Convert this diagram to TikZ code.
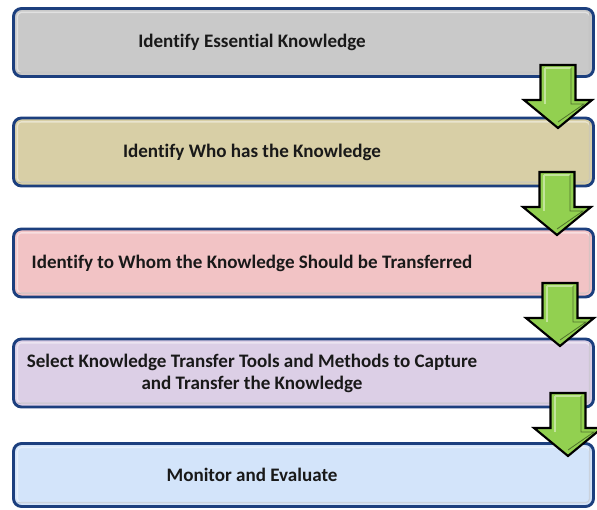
\documentclass[tikz,border=0pt]{standalone}
\usepackage{fontspec}
\setmainfont{Carlito}[Ligatures=CommonOff]
\usetikzlibrary{positioning}

\definecolor{framecol}{HTML}{1C3F7E}
\definecolor{greyfill}{HTML}{C9C9C9}
\definecolor{tanfill}{HTML}{D8CFA6}
\definecolor{pinkfill}{HTML}{F2C3C5}
\definecolor{lilacfill}{HTML}{DCCFE6}
\definecolor{bluefill}{HTML}{D3E4FA}
\definecolor{arrowfill}{HTML}{92D050}
\definecolor{arrowlight}{HTML}{C2E49A}

\tikzset{
  every picture/.style = {
    x = 0.75pt,
    y = -0.75pt,
  }
  ,
  stage/.style = {
    rectangle,
    rounded corners = 6pt,
    draw = framecol,
    line width = 2.2pt,
    minimum width = 435pt,
    minimum height = 51pt
  }
  , % text of the stages
  stage-text/.style = {
    font = \bfseries\fontsize{14.3pt}{16.5pt}\selectfont,
    text = black!90,
    align = center
  }
  , % bevel inside a stage
  bevel/.style = {
    rounded corners = 3pt,
    line width = 1pt
  }
}

% block arrow pointing down: centre x, top y
\newcommand{\stagearrow}[2]{
  \draw[fill=arrowfill, line width=1.6pt, line join=miter]
    (#1-17.5,#2) -- (#1+17.5,#2) -- (#1+17.5,#2+35) -- (#1+34,#2+35)
    -- (#1,#2+63) -- (#1-34,#2+35) -- (#1-17.5,#2+35) -- cycle;
  \draw[arrowlight, line width=1.2pt]
    (#1-13,#2+3) -- (#1-13,#2+39) (#1-13,#2+3) -- (#1+13,#2+3);
  \draw[black!45!arrowfill, line width=0.6pt]
    (#1+13,#2+3) -- (#1+13,#2+39) -- (#1+26,#2+39) -- (#1,#2+57);
}

\begin{document}
\begin{tikzpicture}
  \useasboundingbox (0,0) rectangle (597,510);

  \node[stage, fill=greyfill]  (b1) at (303.5,42.5) {};
  \node[stage, fill=tanfill]   (b2) at (303.5,152) {};
  \node[stage, fill=pinkfill]  (b3) at (303.5,263) {};
  \node[stage, fill=lilacfill] (b4) at (303.5,373) {};
  \node[stage, fill=bluefill, minimum height=47.25pt] (b5) at (303.5,475) {};

  % light and dark edges inside each stage
  \foreach \b in {b1,b2,b3,b4,b5} {
    \draw[bevel, white, opacity=0.45]
      ([shift={(4pt,4pt)}]\b.south west) rectangle ([shift={(-4pt,-4pt)}]\b.north east);
    \draw[bevel, black, opacity=0.12]
      ([shift={(4pt,4pt)}]\b.south west) -- ([shift={(-4pt,4pt)}]\b.south east)
      -- ([shift={(-4pt,-4pt)}]\b.north east);
  }

  \node[stage-text] (t1) at ([xshift=-38.6pt]b1.center) {Identify Essential Knowledge};
  \node[stage-text] (t2) at ([xshift=-38.6pt]b2.center) {Identify Who has the Knowledge};
  \node[stage-text] (t3) at ([xshift=-38.6pt]b3.center) {Identify to Whom the Knowledge Should be Transferred};
  \node[stage-text] (t4) at ([xshift=-38.6pt]b4.center) {Select Knowledge Transfer Tools and Methods to Capture\\and Transfer the Knowledge};
  \node[stage-text] (t5) at ([xshift=-38.6pt]b5.center) {Monitor and Evaluate};

  \stagearrow{558}{65}
  \stagearrow{557}{172}
  \stagearrow{560}{283}
  \stagearrow{568}{393}
\end{tikzpicture}
\end{document}
